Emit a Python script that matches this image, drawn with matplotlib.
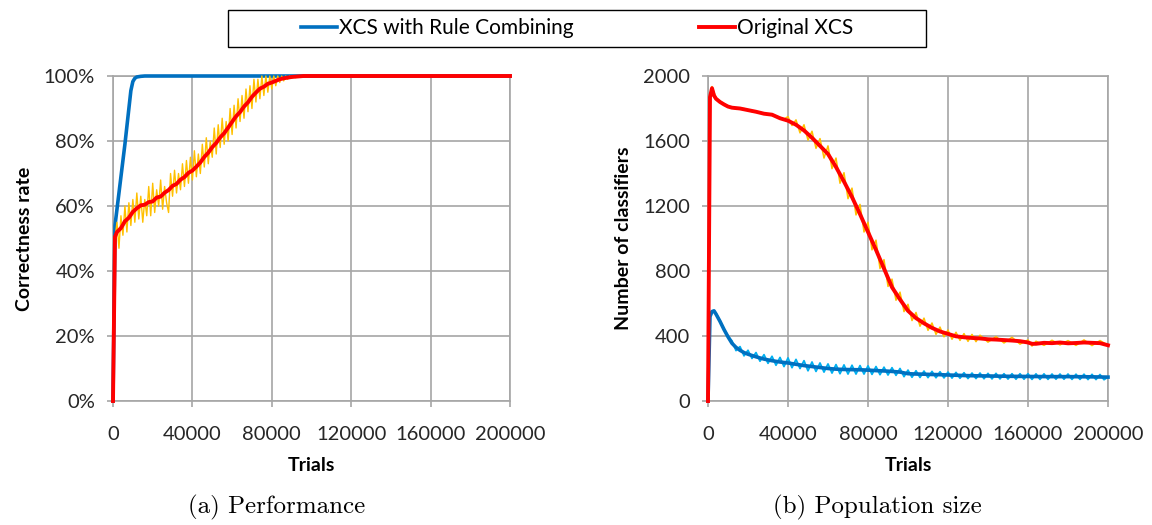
import matplotlib
matplotlib.use('Agg')
import matplotlib.pyplot as plt
from matplotlib.patches import Rectangle
from matplotlib.ticker import PercentFormatter

plt.rcParams['font.family'] = ['Lato', 'DejaVu Sans']

# (a) performance, correctness rate in %
perf_x_rc = [0, 1000, 2000, 3000, 4000, 5000, 6000, 7000, 8000, 9000, 10000, 11000,
             12000, 14000, 16000, 40000, 80000, 120000, 160000, 200000]
perf_rc = [0, 54, 59, 64, 69, 74, 79, 84.5, 90, 95.5, 98.3, 99.3,
           99.7, 99.9, 100, 100, 100, 100, 100, 100]

perf_x_xcs = [0, 1000, 2000, 4000, 6000, 8000, 10000, 12000, 14000, 16000, 18000, 20000,
              22000, 24000, 26000, 28000, 30000, 32000, 34000, 36000, 38000, 40000,
              42000, 44000, 46000, 48000, 50000, 52000, 54000, 56000, 58000, 60000,
              62000, 64000, 66000, 68000, 70000, 72000, 74000, 76000, 78000, 80000,
              82000, 84000, 86000, 88000, 90000, 92000, 94000, 96000, 100000, 150000, 200000]
perf_xcs = [0, 50.5, 52, 53.2, 55.3, 56.4, 58.2, 59.3, 60.2, 60.4, 61.2, 61.4,
            62.6, 62.9, 64.1, 64.9, 66.2, 66.8, 68.1, 68.9, 70.2, 70.9,
            72.1, 73.4, 75.1, 76.4, 78.1, 79.4, 81.1, 82.4, 84.1, 85.9,
            87.6, 88.9, 90.6, 91.9, 93.6, 94.9, 96.1, 96.7, 97.6, 98,
            98.5, 99, 99.3, 99.5, 99.7, 99.8, 99.9, 100, 100, 100, 100]

# raw (unsmoothed) XCS performance, one value per 1000 trials up to 100000
perf_raw_xcs = [0, 50, 55, 47, 57, 51, 60, 52, 61, 54,
                62, 55, 64, 56, 63, 55, 62, 57, 66, 57,
                67, 58, 65, 60, 68, 59, 66, 61, 58, 70,
                63, 71, 64, 70, 65, 73, 66, 74, 67, 75,
                68, 77, 69, 76, 70, 79, 72, 81, 73, 80,
                75, 84, 76, 85, 78, 87, 79, 86, 80, 90,
                82, 91, 84, 93, 86, 94, 87, 96, 89, 97,
                90, 99, 92, 99, 93, 100, 94, 100, 95, 100,
                96, 100, 97, 100, 98, 100, 98.5, 100, 99, 100,
                99.3, 100, 99.5, 100, 99.7, 100, 100, 100, 100, 100, 100]
perf_raw_x = [i * 1000 for i in range(len(perf_raw_xcs))] + [200000]
perf_raw_xcs = perf_raw_xcs + [100]

# (b) population size
pop_x_rc = [0, 1000, 2000, 3000, 4000, 6000, 8000, 10000, 12000, 14000, 16000, 18000,
            20000, 24000, 28000, 32000, 36000, 40000, 44000, 48000, 52000, 56000,
            60000, 64000, 68000, 72000, 76000, 80000, 84000, 88000, 92000, 96000,
            100000, 104000, 108000, 112000, 116000, 120000, 130000, 140000, 150000,
            160000, 170000, 180000, 190000, 200000]
pop_rc = [0, 520, 550, 555, 535, 490, 440, 395, 355, 330, 312, 298,
          288, 272, 258, 248, 240, 234, 226, 218, 212, 206,
          200, 196, 194, 193, 192, 190, 187, 185, 182, 178,
          168, 166, 165, 163, 162, 160, 156, 154, 152,
          151, 150, 150, 149, 147]

pop_raw_x_rc = [0, 1000, 2000, 4000, 6000, 8000, 10000] + [12000 + 2000 * i for i in range(95)]
pop_raw_rc = [0, 520, 555, 540, 495, 445, 400,
              370, 310, 335, 278, 312, 262, 298, 245, 285, 232,
              275, 220, 268, 212, 265, 205, 256, 200, 248, 186,
              240, 182, 234, 178, 228, 172, 224, 168, 222, 166,
              220, 166, 218, 166, 216, 164, 212, 162, 208, 160,
              205, 158, 200, 150, 190, 146, 186, 145, 184, 144,
              182, 143, 180, 142, 178, 141, 176, 140, 174, 138,
              172, 138, 172, 137, 170, 136, 170, 136, 168, 135,
              168, 134, 168, 134, 168, 133, 167, 133, 167, 133,
              166, 134, 166, 134, 166, 133, 165, 133, 165, 132,
              164, 132, 163, 131, 147]

pop_x_xcs = [0, 1000, 2000, 3000, 4000, 6000, 8000, 10000, 12000, 16000, 20000, 24000,
             28000, 32000, 36000, 40000, 44000, 48000, 52000, 56000, 60000, 64000,
             68000, 72000, 76000, 80000, 84000, 88000, 92000, 96000, 100000, 104000,
             108000, 112000, 116000, 120000, 124000, 128000, 132000, 136000, 140000,
             144000, 148000, 152000, 156000, 160000, 162000, 164000, 168000, 172000,
             176000, 180000, 184000, 188000, 192000, 196000, 200000]
pop_xcs = [0, 1870, 1925, 1880, 1860, 1840, 1825, 1812, 1805, 1800, 1790, 1780,
           1768, 1762, 1740, 1725, 1700, 1665, 1620, 1570, 1520, 1440,
           1350, 1255, 1150, 1040, 930, 815, 700, 625, 555, 510,
           478, 450, 428, 413, 398, 392, 388, 385, 380,
           378, 375, 372, 368, 360, 352, 352, 358, 356,
           360, 355, 357, 360, 358, 356, 343]

pop_raw_x_xcs = ([0, 1000, 2000, 4000, 6000, 8000, 10000, 14000, 18000, 22000, 26000,
                  30000, 34000, 38000] + [40000 + 2000 * i for i in range(49)] +
                 [140000, 144000, 148000, 152000, 156000, 160000, 162000, 164000, 168000,
                  172000, 176000, 180000, 184000, 188000, 192000, 196000, 200000])
pop_raw_xcs = ([0, 1880, 1935, 1865, 1845, 1830, 1815, 1795, 1800, 1780, 1778,
                1760, 1755, 1735] +
               [1750, 1695, 1730, 1650, 1700, 1605, 1660, 1555, 1615, 1495,
                1570, 1430, 1495, 1340, 1405, 1245, 1310, 1145, 1210, 1040,
                1100, 930, 990, 815, 870, 705, 750, 620, 670, 550,
                595, 495, 545, 460, 510, 435, 480, 410, 455, 395,
                437, 380, 423, 373, 415, 367, 410, 365, 405] +
               [362, 396, 357, 392, 350, 376, 338, 368, 342,
                374, 345, 372, 342, 376, 341, 372, 343])

blue = '#0070C0'
red = '#FF0000'
orange = '#FFC000'
lightblue = '#00B0F0'
grid = '#A6A6A6'

fig = plt.figure(figsize=(11.52, 5.25), dpi=100)
ax1 = fig.add_axes([113 / 1152, 1 - 401 / 525, 397 / 1152, 325 / 525])
ax2 = fig.add_axes([708 / 1152, 1 - 401 / 525, 400 / 1152, 325 / 525])

ax1.plot(perf_x_rc, perf_rc, color=blue, lw=2.6, clip_on=False, zorder=3,
         label='XCS with Rule Combining')
ax1.plot(perf_raw_x, perf_raw_xcs, color=orange, lw=1.0, clip_on=False, zorder=3)
ax1.plot(perf_x_xcs, perf_xcs, color=red, lw=2.8, clip_on=False, zorder=4,
         label='Original XCS')

ax2.plot(pop_raw_x_rc, pop_raw_rc, color=lightblue, lw=1.3, clip_on=False, zorder=3)
ax2.plot(pop_x_rc, pop_rc, color=blue, lw=2.6, clip_on=False, zorder=3)
ax2.plot(pop_raw_x_xcs, pop_raw_xcs, color=orange, lw=1.1, clip_on=False, zorder=3)
ax2.plot(pop_x_xcs, pop_xcs, color=red, lw=2.8, clip_on=False, zorder=4)

xticks = [0, 40000, 80000, 120000, 160000, 200000]
for ax in (ax1, ax2):
    ax.set_xlim(0, 200000)
    ax.set_xticks(xticks)
    ax.set_xticklabels([str(t) for t in xticks])
    ax.grid(True, color=grid, lw=1.2)
    ax.set_axisbelow(True)
    for s in ax.spines.values():
        s.set_color(grid)
        s.set_linewidth(1.2)
    ax.tick_params(axis='both', colors=grid, labelcolor='#262626', labelsize=14.5,
                   length=4, width=1.2)
    ax.tick_params(axis='x', pad=14)
    ax.tick_params(axis='y', pad=9)
    ax.set_xlabel('Trials', fontsize=14, fontweight='bold', labelpad=10)

ax1.set_ylim(0, 100)
ax1.set_yticks(range(0, 101, 20))
ax1.yaxis.set_major_formatter(PercentFormatter(decimals=0))
ax1.set_ylabel('Correctness rate', fontsize=14, fontweight='bold', labelpad=8)

ax2.set_ylim(0, 2000)
ax2.set_yticks(range(0, 2001, 400))
ax2.set_ylabel('Number of classifiers', fontsize=14, fontweight='bold', labelpad=8)

fig.add_artist(Rectangle((228 / 1152, 1 - 47 / 525), 698 / 1152, 37 / 525,
                         transform=fig.transFigure, fill=False, ec='black', lw=1))
h, l = ax1.get_legend_handles_labels()
fig.legend(h, l, loc='center', bbox_to_anchor=(577 / 1152, 1 - 28.5 / 525), ncol=2,
           frameon=False, fontsize=15, handlelength=1.75, handletextpad=0.1,
           columnspacing=6.0)

fig.text(277 / 1152, 1 - 507 / 525, '(a) Performance', family='cmr10', fontsize=18,
         ha='center', va='center')
fig.text(877 / 1152, 1 - 507 / 525, '(b) Population size', family='cmr10', fontsize=18,
         ha='center', va='center')

fig.savefig('out.png', dpi=100)
